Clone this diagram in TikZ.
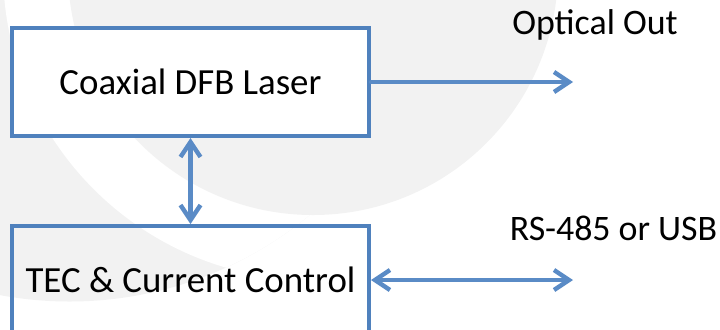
\documentclass[tikz,border=0pt]{standalone}
\usepackage{fontspec}
\setmainfont{Carlito}
\usetikzlibrary{positioning, arrows.meta}
\definecolor{boxline}{HTML}{4F81BD}
\definecolor{wire}{HTML}{5A8BC6}
\definecolor{watermark}{HTML}{F2F2F2}
\tikzset{
  unit/.style = {rectangle, draw=boxline, line width=4bp, fill=white,
                 minimum width=357bp, minimum height=108bp, inner sep=0pt,
                 align=center, font=\fontsize{37}{44}\selectfont},
  tag/.style  = {inner sep=0pt, font=\fontsize{36}{43}\selectfont},
  ar/.style   = {-{Straight Barb[length=15bp,width=20bp]}, line width=4.4bp,
                 draw=wire, line cap=round},
  dar/.style  = {{Straight Barb[length=15bp,width=20bp]}-{Straight Barb[length=15bp,width=20bp]},
                 line width=4.4bp, draw=wire},
}
\begin{document}
\begin{tikzpicture}[x=1bp, y=-1bp]

  \useasboundingbox (0,0) rectangle (720,329);

  % faint logo behind the diagram
  \begin{scope}
    \clip (0,0) rectangle (720,329);
    \begin{scope}
      \clip (69.5,-75.5) circle[radius=377bp];
      \fill[watermark] (0,0) rectangle (720,329);
      \fill[white] (313,-30) circle[radius=310bp];
    \end{scope}
    \fill[watermark] (313,-30) circle[radius=245bp];
  \end{scope}

  \node[unit] (laser) at (190.5,82) {Coaxial DFB Laser};
  \node[unit, fill=none] (tec) at (190.5,280) {TEC \& Current Control};

  \coordinate (optend) at (573,82);
  \coordinate (busend) at (573,280);
  \node[tag, anchor=base] (optlbl) at (595,34) {Optical Out};
  \node[tag, anchor=base] (buslbl) at (613.5,240) {RS-485 or USB};

  \draw[ar] (laser.east) -- (optend);
  \draw[dar] (tec.east) -- (busend);
  \draw[dar] (laser.south) -- (tec.north);

\end{tikzpicture}
\end{document}
